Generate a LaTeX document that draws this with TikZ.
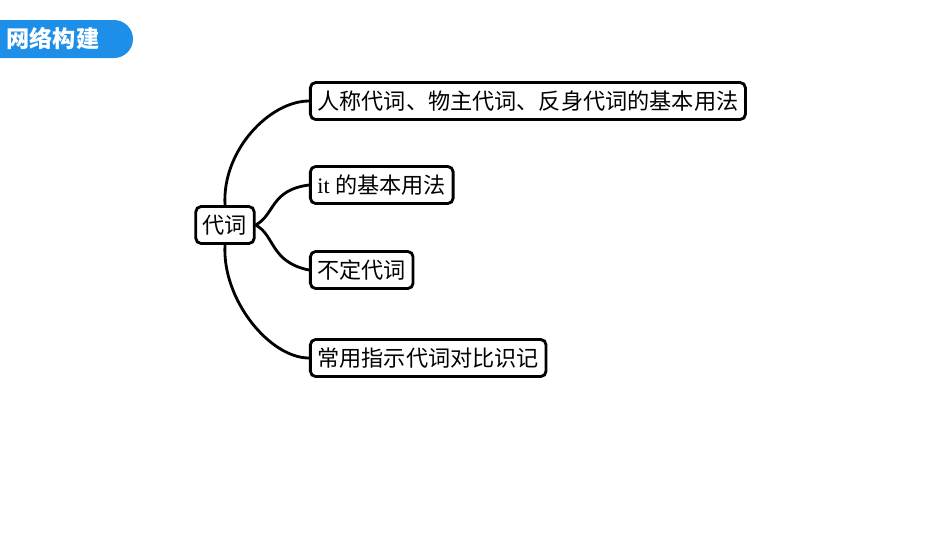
\documentclass[tikz,border=0pt]{standalone}
\usepackage{fontspec}
\setmainfont{Liberation Serif}
\newfontfamily\cjk{Noto Sans CJK SC}
\definecolor{tabblue}{HTML}{1E8FE8}
\begin{document}
\begin{tikzpicture}[x=0.01cm,y=-0.01cm,
  every node/.style={font=\cjk\fontsize{6.3}{7}\selectfont},
  topic/.style={draw,thick,rounded corners=1.5pt,minimum height=0.37cm,inner xsep=2pt,inner ysep=0pt},
  branch/.style={thick}]
\useasboundingbox (0,0) rectangle (950,535);
% 标题
\fill[tabblue,rounded corners=0.19cm] (-30,20) rectangle (133,58);
\node[text=white,font=\cjk\bfseries\fontsize{6.6}{7}\selectfont,anchor=west] (title) at (-6,39) {网络构建};
% 节点
\node[topic] (root) at (225,225) {代词};
\node[topic,anchor=west] (a) at (309,101) {人称代词、物主代词、反身代词的基本用法};
\node[topic,anchor=west] (b) at (309,185) {\fontspec{Liberation Serif}it \cjk 的基本用法};
\node[topic,anchor=west] (c) at (309,270) {不定代词};
\node[topic,anchor=west] (d) at (309,358) {常用指示代词对比识记};
% 连线
\draw[branch] (root.north) .. controls (222,150) and (270,101) .. (a.west);
\draw[branch] (root.east) .. controls (275,215) and (270,190) .. (b.west);
\draw[branch] (root.east) .. controls (275,235) and (270,262) .. (c.west);
\draw[branch] (root.south) .. controls (222,300) and (270,358) .. (d.west);
\end{tikzpicture}
\end{document}
